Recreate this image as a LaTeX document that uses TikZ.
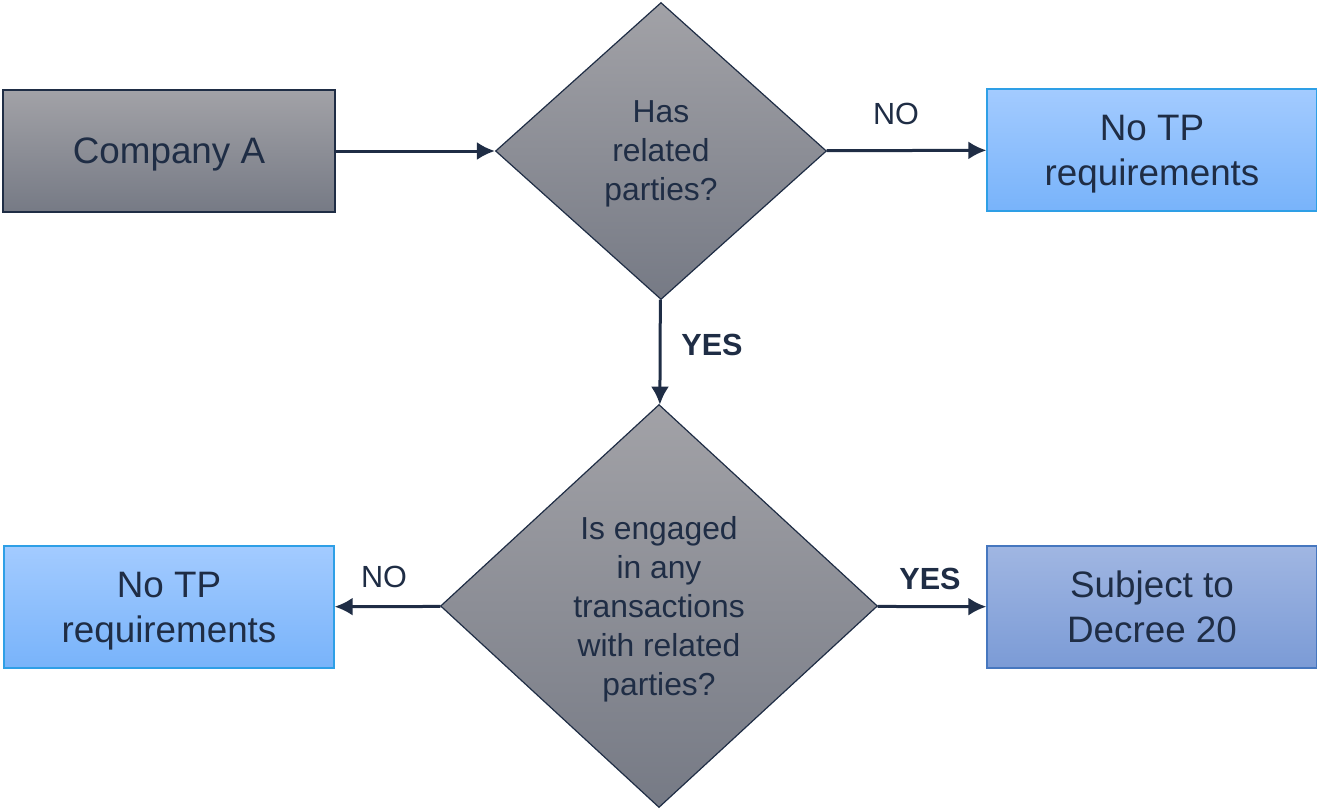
\documentclass[tikz,border=0pt]{standalone}
\usepackage{fontspec}
\setmainfont{Liberation Sans}
\usepackage{tikz}
\usetikzlibrary{positioning}
\usetikzlibrary{arrows.meta,shapes.geometric}
\usetikzlibrary{calc}
\definecolor{ink}{HTML}{1F2D45}
\definecolor{greytop}{HTML}{A2A2A7}
\definecolor{greybot}{HTML}{767A85}
\definecolor{skytop}{HTML}{A3CBFF}
\definecolor{skybot}{HTML}{78B3FA}
\definecolor{skyline}{HTML}{2E9FE6}
\definecolor{steeltop}{HTML}{A0B6E2}
\definecolor{steelbot}{HTML}{7B9BD6}
\definecolor{steelline}{HTML}{4677BF}
\tikzstyle{greybox}=[rectangle,draw=ink,line width=0.6pt,top color=greytop,bottom color=greybot,minimum width=166pt,minimum height=61pt,text=ink,text depth=0pt,font=\fontsize{18.4}{22.5}\selectfont,align=center]
\tikzstyle{skybox}=[rectangle,draw=skyline,line width=0.6pt,top color=skytop,bottom color=skybot,minimum width=165pt,minimum height=61pt,text=ink,text depth=0pt,font=\fontsize{18.4}{22.5}\selectfont,align=center]
\tikzstyle{steelbox}=[skybox,draw=steelline,top color=steeltop,bottom color=steelbot]
\tikzstyle{question}=[diamond,draw=ink,line width=0.6pt,top color=greytop,bottom color=greybot,inner sep=0pt,text=ink,text depth=0pt,font=\fontsize{15.9}{19.5}\selectfont,align=center]
\tikzstyle{edge} = [draw,line width=1.5pt,ink,-{Latex[length=9pt,width=9pt]}]
\tikzstyle{weight} = [text=ink,font=\fontsize{15.3}{18}\selectfont,inner sep=0pt]

\begin{document}
\begin{tikzpicture}[x=0.5pt,y=-0.5pt]

  \useasboundingbox (0,0) rectangle (1317,811);

   \node[greybox] (company) at (169,151) {Company A};
   \node[question,minimum width=165.5pt,minimum height=148.5pt] (related) at (661,151) {Has\\related\\parties?};
   \node[question,minimum width=218.5pt,minimum height=201.5pt] (deals) at (659,606) {Is engaged\\in any\\transactions\\with related\\parties?};

   \foreach \x/\y/\name/\label in {1152/150/notpA/{No TP\\requirements}, 169/607/notpB/{No TP\\requirements}}
          \node[skybox] (\name) at (\x,\y) {\label};

   \node[steelbox] (decree) at (1152,607) {Subject to\\Decree 20};

  \foreach \source/ \dest in {company/related, related/notpA, related/deals, deals/notpB, deals/decree}
         \path[edge] (\source) -- (\dest);

  \node[weight] at (896,114) {NO};
  \node[weight,font=\fontsize{15.3}{18}\selectfont\bfseries] at (712,345) {YES};
  \node[weight] at (384,577) {NO};
  \node[weight,font=\fontsize{15.3}{18}\selectfont\bfseries] at (930,579) {YES};

   \end{tikzpicture}
\end{document}
